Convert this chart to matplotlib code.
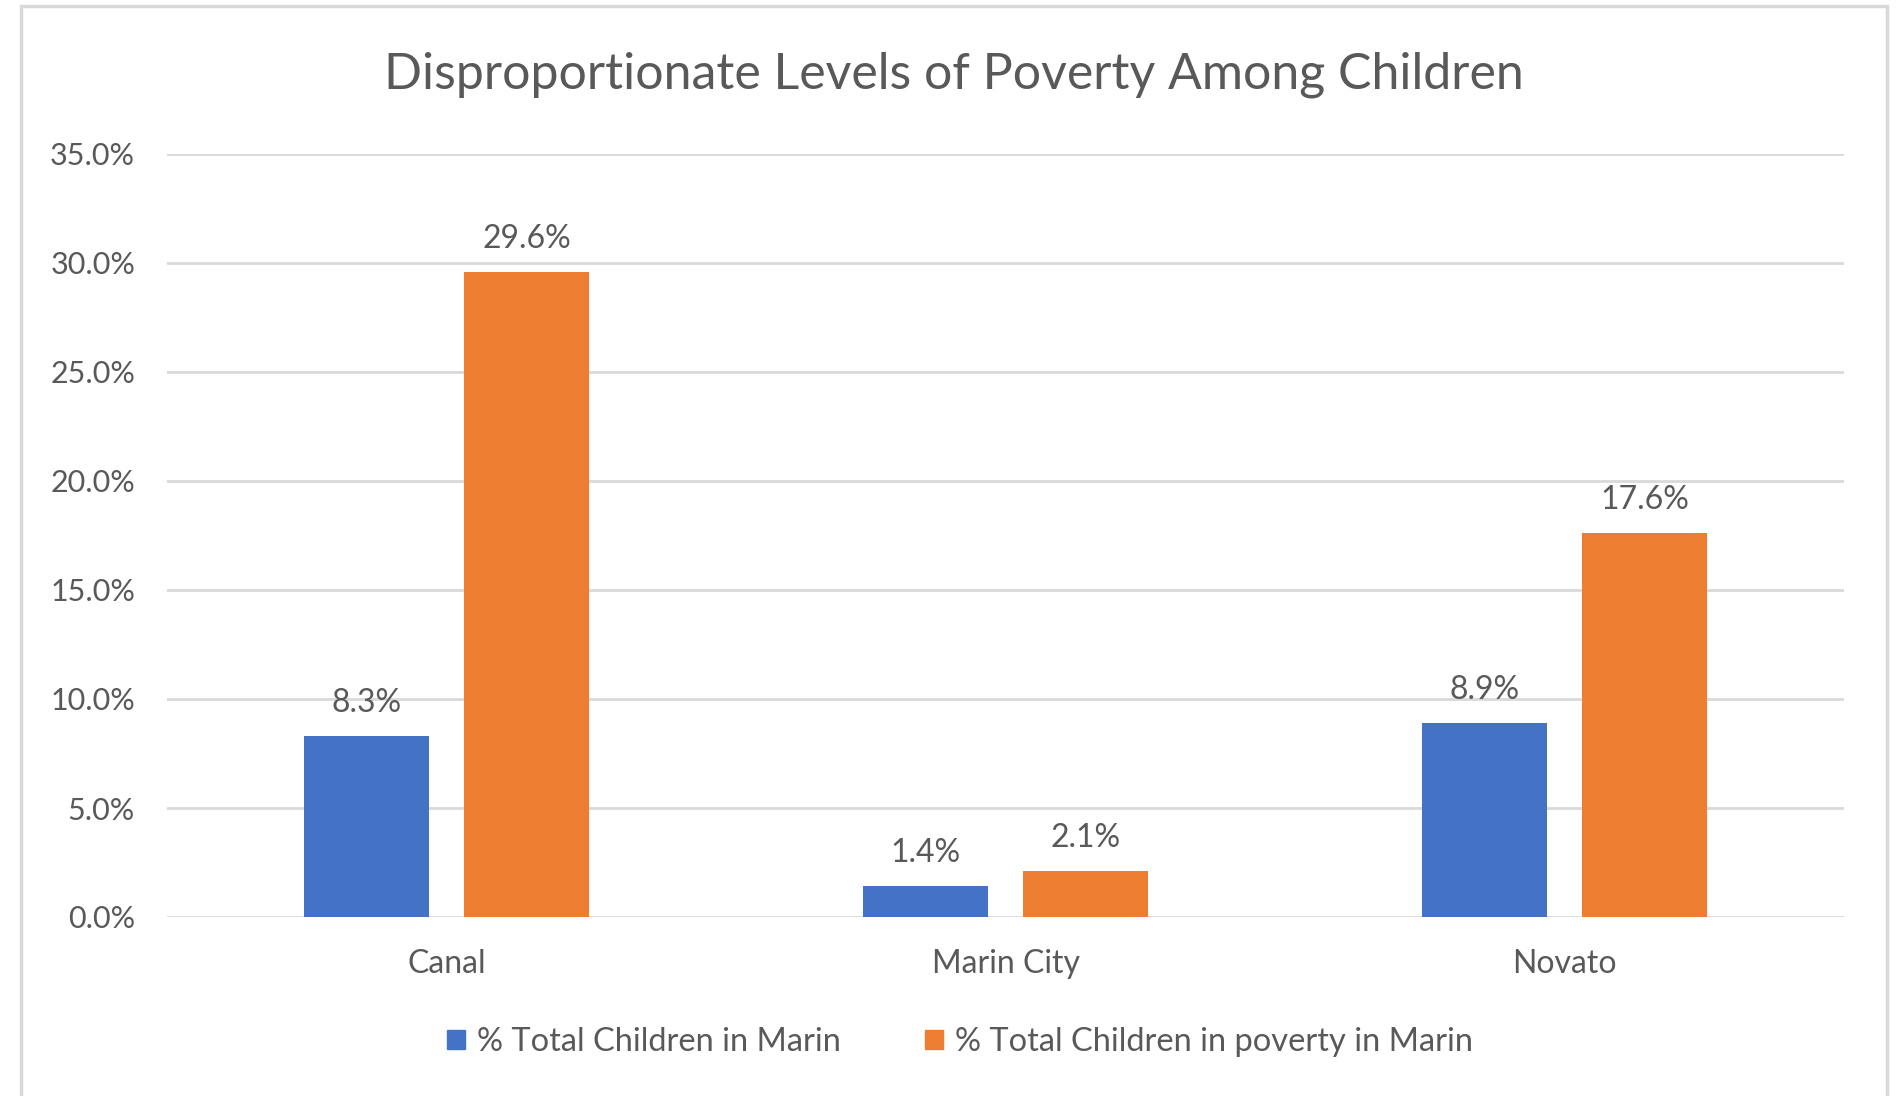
import numpy as np
import matplotlib
matplotlib.use("Agg")
import matplotlib.pyplot as plt
from matplotlib.patches import Rectangle, Patch

# data
categories = ["Canal", "Marin City", "Novato"]
pct_children = [8.3, 1.4, 8.9]
pct_children_poverty = [29.6, 2.1, 17.6]
series_names = ["% Total Children in Marin", "% Total Children in poverty in Marin"]
yticks = [0, 5, 10, 15, 20, 25, 30, 35]

BLUE = "#4472C4"
ORANGE = "#ED7D31"
GRID = "#D9D9D9"
TEXT = "#595959"

plt.rcParams["font.family"] = ["Lato", "DejaVu Sans"]

fig = plt.figure(figsize=(19, 10.96), dpi=100)
ax = fig.add_axes([167 / 1900, 1 - 917 / 1096, (1844 - 167) / 1900, (917 - 154) / 1096])

x = np.arange(len(categories))
width = 0.225
offset = 0.143
bars1 = ax.bar(x - offset, pct_children, width, color=BLUE, zorder=3)
bars2 = ax.bar(x + offset, pct_children_poverty, width, color=ORANGE, zorder=3)

for bars, vals in [(bars1, pct_children), (bars2, pct_children_poverty)]:
    for b, v in zip(bars, vals):
        ax.annotate(f"{v:.1f}%", (b.get_x() + b.get_width() / 2, v),
                    xytext=(0, 13), textcoords="offset points",
                    ha="center", va="bottom", fontsize=23, color=TEXT)

ax.set_xlim(-0.5, len(categories) - 0.5)
ax.set_ylim(0, 35)
ax.set_yticks(yticks)
ax.set_yticklabels([f"{t:.1f}%" for t in yticks], fontsize=22, color=TEXT)
ax.set_xticks(x)
ax.set_xticklabels(categories, fontsize=23, color=TEXT)
ax.tick_params(axis="both", length=0)
ax.tick_params(axis="y", pad=23)
ax.tick_params(axis="x", pad=23)
ax.grid(axis="y", color=GRID, lw=2, zorder=0)
for s in ax.spines.values():
    s.set_visible(False)

fig.text(954 / 1900, 1 - 75 / 1096, "Disproportionate Levels of Poverty Among Children",
         ha="center", va="center", fontsize=36, color=TEXT)

handles = [Patch(color=BLUE), Patch(color=ORANGE)]
fig.legend(handles, series_names, loc="center", bbox_to_anchor=(960 / 1900, 1 - 1042 / 1096),
           ncol=2, frameon=False, fontsize=23.5, labelcolor=TEXT,
           handlelength=0.55, handleheight=0.55, handletextpad=0.35, columnspacing=2.6)

fig.patches.append(Rectangle((21 / 1900, -0.1), (1887 - 21) / 1900, 1.1 - 6 / 1096,
                             transform=fig.transFigure, fill=False, ec=GRID, lw=2.5))

fig.savefig("out.png", dpi=100, facecolor="white")
